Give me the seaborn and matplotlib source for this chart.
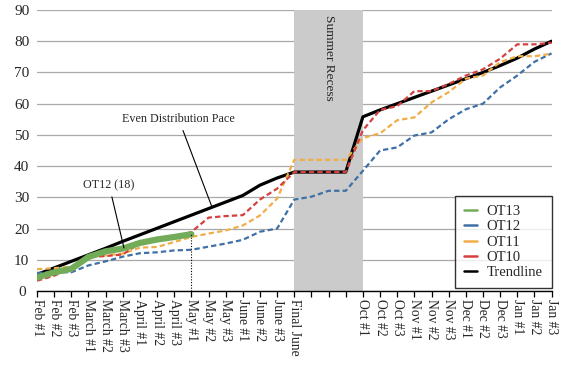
import numpy as np
import pandas as pd
import matplotlib
matplotlib.use("Agg")
import matplotlib.pyplot as plt
from matplotlib.lines import Line2D
import seaborn as sns

# Period labels (three blank slots during the summer recess)
labels = ["Feb #1", "Feb #2", "Feb #3", "March #1", "March #2", "March #3",
          "April #1", "April #2", "April #3", "May #1", "May #2", "May #3",
          "June #1", "June #2", "June #3", "Final June", "", "", "",
          "Oct #1", "Oct #2", "Oct #3", "Nov #1", "Nov #2", "Nov #3",
          "Dec #1", "Dec #2", "Dec #3", "Jan #1", "Jan #2", "Jan #3"]

trendline = [5.3, 7.4, 9.5, 11.6, 13.7, 15.9, 18.0, 20.1, 22.2, 24.3, 26.4,
             28.5, 30.6, 33.9, 36.2, 38.1, 38.1, 38.1, 38.1, 55.8, 58.0, 60.0,
             62.0, 64.0, 66.0, 68.0, 70.0, 72.2, 74.6, 77.5, 80.0]
ot13 = [4.3, 6.0, 7.1, 10.9, 12.7, 13.6, 15.4, 16.5, 17.3, 18.2]
ot12 = [5.8, 6.0, 6.0, 8.2, 9.5, 11.0, 12.1, 12.4, 13.0, 13.2, 14.2, 15.2,
        16.4, 19.0, 20.0, 29.3, 30.2, 32.1, 32.1, 38.5, 45.0, 46.0, 49.8,
        50.8, 55.0, 58.2, 60.0, 65.2, 69.0, 73.4, 76.1]
ot11 = [7.0, 7.3, 7.8, 10.9, 11.4, 12.0, 13.9, 14.1, 15.7, 17.3, 18.4, 19.4,
        21.0, 24.2, 29.6, 42.0, 42.0, 42.0, 42.0, 49.0, 50.5, 54.7, 55.6,
        60.4, 63.7, 68.0, 69.0, 73.3, 75.2, 75.2, 76.0]
ot10 = [3.3, 4.9, 7.4, 10.9, 11.2, 11.7, 15.4, 17.0, 17.0, 18.9, 23.5, 24.0,
        24.3, 29.3, 32.8, 38.1, 38.1, 38.1, 38.1, 51.5, 58.0, 59.2, 64.0,
        64.0, 66.3, 69.0, 71.0, 74.4, 79.0, 79.0, 79.5]

recess_start, recess_end = 15, 19

colors = {"OT13": "#72ac58", "OT12": "#3f70a6", "OT11": "#f0ae48",
          "OT10": "#d4403d", "Trendline": "black"}

x = np.arange(len(labels))
ot13_full = ot13 + [np.nan] * (len(labels) - len(ot13))

sns.set_style("white")
plt.rcParams["font.family"] = ["Liberation Serif", "DejaVu Serif"]

fig, ax = plt.subplots(figsize=(5.8, 3.65), dpi=100)
fig.subplots_adjust(left=0.0638, right=0.951, top=0.9726, bottom=0.2027)

# grid + summer recess band
ax.set_axisbelow(True)
ax.yaxis.grid(True, color="#a8a8a8", linewidth=0.9, zorder=0)
ax.axvspan(recess_start, recess_end, color="#cbcbcb", zorder=1, lw=0)
ax.text((recess_start + recess_end) / 2, 88.5, "Summer Recess", rotation=-90,
        ha="center", va="top", fontsize=9.6, zorder=6)

dash = (0, (2.4, 1.4))
sns.lineplot(x=x, y=trendline, ax=ax, color=colors["Trendline"], linewidth=2.3,
             zorder=3, legend=False)
sns.lineplot(x=x, y=ot12, ax=ax, color=colors["OT12"], linewidth=1.6,
             linestyle=dash, zorder=4, legend=False)
sns.lineplot(x=x, y=ot11, ax=ax, color=colors["OT11"], linewidth=1.6,
             linestyle=dash, zorder=4, legend=False)
sns.lineplot(x=x, y=ot10, ax=ax, color=colors["OT10"], linewidth=1.6,
             linestyle=dash, zorder=4, legend=False)
sns.lineplot(x=x, y=ot13_full, ax=ax, color=colors["OT13"], linewidth=4.5,
             zorder=5, legend=False)

# dotted marker at the current period
last = len(ot13) - 1
ax.vlines(last, 0, ot13[last], colors="black", linestyles=(0, (1, 1.5)),
          linewidth=0.8, zorder=6)

# annotations
ax.annotate("Even Distribution Pace", xy=(10.2, 26.9), xytext=(8.25, 55.2),
            ha="center", va="center", fontsize=8.7,
            arrowprops=dict(arrowstyle="-", color="black", lw=0.8,
                            shrinkA=2, shrinkB=0), zorder=7)
ax.annotate("OT12 (18)", xy=(5.07, 13.8), xytext=(4.2, 34.0),
            ha="center", va="center", fontsize=8.7,
            arrowprops=dict(arrowstyle="-", color="black", lw=0.8,
                            shrinkA=2, shrinkB=0), zorder=7)

# axes styling
ax.set_xlim(0, len(labels) - 1)
ax.set_ylim(0, 90)
ax.set_yticks(range(0, 91, 10))
ax.set_xticks(x)
ax.set_xticklabels(labels, rotation=-90, fontsize=9.8, va="top", ha="center")
ax.tick_params(axis="x", direction="out", length=4, width=0.9, color="black",
               pad=2, bottom=True)
ax.tick_params(axis="y", length=0, pad=11, labelsize=11)
for lab in ax.get_yticklabels():
    lab.set_horizontalalignment("center")
for side in ["left", "right", "top"]:
    ax.spines[side].set_visible(False)
ax.spines["bottom"].set_color("black")
ax.spines["bottom"].set_linewidth(1.0)
ax.spines["bottom"].set_zorder(8)
ax.set_xlabel("")
ax.set_ylabel("")

# legend
handles = [Line2D([], [], color=colors[k], lw=1.8) for k in colors]
leg = ax.legend(handles, list(colors.keys()), loc="lower right",
                bbox_to_anchor=(1.0, 0.01), borderaxespad=0, fontsize=10.5,
                frameon=True, fancybox=False, edgecolor="black",
                handlelength=0.85, handletextpad=0.7, labelspacing=0.15,
                borderpad=0.6)
leg.get_frame().set_linewidth(1.0)
leg.set_zorder(9)

fig.savefig("out.png", dpi=100)
